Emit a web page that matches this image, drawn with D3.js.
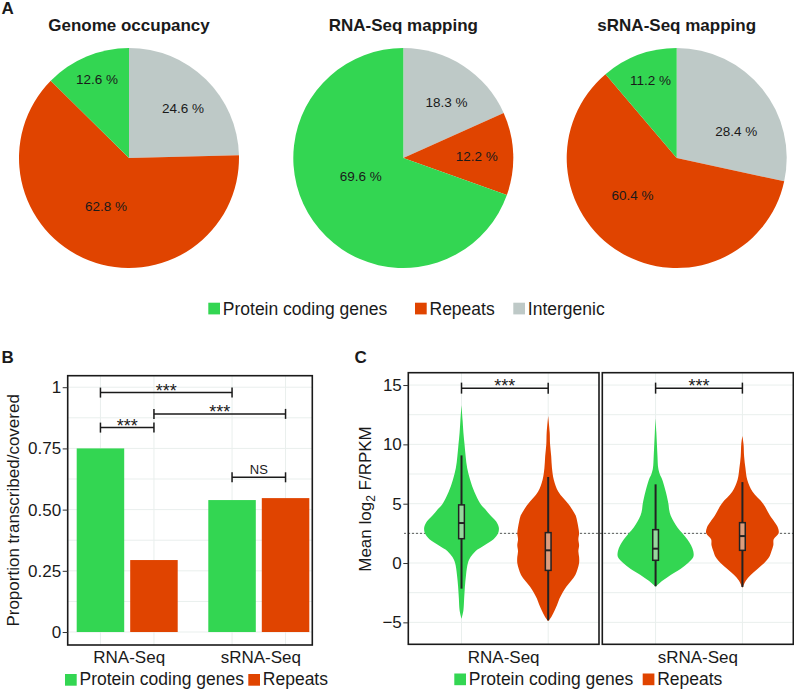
<!DOCTYPE html>
<html><head><meta charset="utf-8">
<script src="https://cdn.jsdelivr.net/npm/d3@7"></script>
<style>
body{margin:0;background:#fff;}
svg{display:block;font-family:"Liberation Sans",Arial,Helvetica,sans-serif;}
</style></head><body>
<svg id="chart" width="794" height="689"></svg>
<script>
// ================= DATA =================
const categories = ["Protein coding genes", "Repeats", "Intergenic"];
// Pie slices in drawing order (clockwise from 12 o'clock)
const pieOrder = ["Intergenic", "Repeats", "Protein coding genes"];
const pieTitles = ["Genome occupancy", "RNA-Seq mapping", "sRNA-Seq mapping"];
const genomeOccupancy = [24.6, 62.8, 12.6];
const rnaSeqMapping   = [18.3, 12.2, 69.6];
const srnaSeqMapping  = [28.4, 60.4, 11.2];

// Panel B
const seqTypes = ["RNA-Seq", "sRNA-Seq"];
const barSeries = ["Protein coding genes", "Repeats"];
const propProtein = [0.75, 0.539];
const propRepeats = [0.294, 0.547];
const propTicks = [0, 0.25, 0.5, 0.75, 1];
const propTickLabels = ["0", "0.25", "0.50", "0.75", "1"];
// significance brackets: from (group, series) to (group, series), at value, label
const propSig = [
  ["RNA-Seq", "Protein coding genes", "sRNA-Seq", "Protein coding genes", 0.978, "***"],
  ["RNA-Seq", "Repeats", "sRNA-Seq", "Repeats", 0.891, "***"],
  ["RNA-Seq", "Protein coding genes", "RNA-Seq", "Repeats", 0.835, "***"],
  ["sRNA-Seq", "Protein coding genes", "sRNA-Seq", "Repeats", 0.632, "NS"]
];

// Panel C : violin density profiles [log2 F/RPKM, relative density]
const densRnaProtein = [[13.3,0],[12,0.03],[11,0.05],[10,0.08],[9,0.11],[8,0.15],[7,0.23],[6,0.34],[5,0.5],[4.5,0.64],[4,0.77],[3.5,0.92],[3,0.99],[2.5,0.97],[2,0.85],[1.5,0.61],[1,0.37],[0.5,0.24],[0,0.17],[-1,0.12],[-2,0.09],[-3,0.07],[-4,0.05],[-4.7,0]];
const densRnaRepeats = [[12.4,0],[11,0.04],[10,0.05],[9,0.08],[8,0.1],[7,0.15],[6,0.27],[5,0.53],[4.5,0.64],[4,0.73],[3.5,0.77],[3,0.8],[2.5,0.82],[2,0.8],[1.5,0.82],[1,0.8],[0.5,0.82],[0,0.82],[-0.5,0.78],[-1,0.72],[-1.5,0.61],[-2,0.48],[-2.5,0.38],[-3,0.3],[-3.5,0.24],[-4,0.17],[-4.5,0.09],[-4.9,0]];
const densSrnaProtein = [[12.2,0],[11,0.02],[10,0.035],[9,0.05],[8,0.07],[7.5,0.11],[7,0.18],[6,0.27],[5,0.34],[4.5,0.36],[4,0.4],[3.5,0.48],[3,0.58],[2.5,0.71],[2,0.84],[1.5,0.94],[1,1.0],[0.5,1.0],[0,0.86],[-0.5,0.66],[-1,0.4],[-1.5,0.18],[-2,0]];
const densSrnaRepeats = [[10.7,0],[10,0.03],[9,0.045],[8,0.08],[7,0.13],[6,0.27],[5,0.55],[4,0.73],[3,0.94],[2.5,0.96],[2,0.83],[1.5,0.82],[1,0.77],[0.5,0.71],[0,0.58],[-0.5,0.4],[-1,0.22],[-1.5,0.09],[-2.1,0]];
// box stats: [lower whisker, q1, median, q3, upper whisker]
const boxRnaProtein  = [-2.16, 2.05, 3.37, 4.9, 9.07];
const boxRnaRepeats  = [-4.83, -0.62, 1.07, 2.56, 7.25];
const boxSrnaProtein = [-1.96, 0.23, 1.21, 2.81, 6.63];
const boxSrnaRepeats = [-2.02, 1.07, 2.27, 3.4, 6.82];
const rpkmTicks = [-5, 0, 5, 10, 15];
const rpkmTickLabels = ["\u22125", "0", "5", "10", "15"];
const rpkmRefLine = 2.5;
const rpkmSigY = 14.74;
const rpkmSigLabel = "***";

// ================= STYLE =================
const colors = {"Protein coding genes": "#33D652", "Repeats": "#E04400", "Intergenic": "#BEC9C7"};
const ink = "#1a1a1a";
const gridCol = "#e9efed";
const svg = d3.select("#chart");

function panelLetter(t, x, y) {
  svg.append("text").attr("x", x).attr("y", y).attr("font-size", 17).attr("font-weight", "bold").attr("fill", ink).text(t);
}
function legend(items, xs, sqY, baseY) {
  items.forEach((k, i) => {
    svg.append("rect").attr("x", xs[i]).attr("y", sqY).attr("width", 11.7).attr("height", 11.7).attr("fill", colors[k]);
    svg.append("text").attr("x", xs[i] + 14.5).attr("y", baseY).attr("font-size", 17.5).attr("fill", ink).text(k);
  });
}

// ================= PANEL A =================
panelLetter("A", 1.5, 14);
const R = 110;
const pieCenters = [[129, 158], [403.3, 158], [676.7, 158]];
// label placement tweaks: [angle offset (deg) from slice middle, radius fraction]
const pieLabelLayout = [
  [[2.9, 0.669], [4, 0.484], [0.6, 0.775]],
  [[5, 0.639], [0.9, 0.668], [12.5, 0.42]],
  [[14.3, 0.595], [18.5, 0.528], [1.6, 0.748]]
];
const pie = d3.pie().sort(null).value(d => d.v);
const arc = d3.arc().innerRadius(0).outerRadius(R);
[genomeOccupancy, rnaSeqMapping, srnaSeqMapping].forEach((vals, i) => {
  const g = svg.append("g").attr("transform", `translate(${pieCenters[i][0]},${pieCenters[i][1]})`);
  const arcs = pie(vals.map((v, j) => ({k: pieOrder[j], v})));
  g.selectAll("path").data(arcs).join("path").attr("d", arc).attr("fill", d => colors[d.data.k]);
  arcs.forEach((a, j) => {
    const [dAng, rf] = pieLabelLayout[i][j];
    const ang = (a.startAngle + a.endAngle) / 2 + dAng * Math.PI / 180;
    const r = rf * R;
    g.append("text").attr("x", r * Math.sin(ang)).attr("y", -r * Math.cos(ang)).attr("dy", "0.35em")
      .attr("text-anchor", "middle").attr("font-size", 13.5).attr("fill", ink).text(a.data.v.toFixed(1) + " %");
  });
  svg.append("text").attr("x", pieCenters[i][0]).attr("y", 30.5).attr("text-anchor", "middle")
    .attr("font-size", 17).attr("font-weight", "bold").attr("fill", ink).text(pieTitles[i]);
});
legend(["Protein coding genes", "Repeats", "Intergenic"], [208.3, 415, 513.3], 302.7, 314.8);

// ================= PANEL B =================
panelLetter("B", 1.5, 363.3);
const bL = 67.7, bR = 312.3, bT = 375.7, bB = 645;
const yB = d3.scaleLinear().domain([-0.053, 1.047]).range([bB, bT]);
const xG = d3.scaleBand().domain(seqTypes).range([76.7, 309.3]).paddingInner(0.2325);
const xS = d3.scaleBand().domain(barSeries).range([0, xG.bandwidth()]).paddingInner(0.112);
const barCenter = (grp, ser) => xG(grp) + xS(ser) + xS.bandwidth() / 2;
const gB = svg.append("g");
// grid
d3.range(0, 1.0001, 0.125).forEach(v => {
  gB.append("line").attr("x1", bL).attr("x2", bR).attr("y1", yB(v)).attr("y2", yB(v)).attr("stroke", gridCol).attr("stroke-width", 1);
});
seqTypes.forEach(grp => barSeries.forEach(ser => {
  const x = barCenter(grp, ser);
  gB.append("line").attr("x1", x).attr("x2", x).attr("y1", bT).attr("y2", bB).attr("stroke", gridCol).attr("stroke-width", 1);
}));
// bars
const barData = [];
seqTypes.forEach((grp, i) => {
  barData.push({grp, ser: "Protein coding genes", v: propProtein[i]});
  barData.push({grp, ser: "Repeats", v: propRepeats[i]});
});
gB.selectAll("rect.bar").data(barData).join("rect").attr("class", "bar")
  .attr("x", d => xG(d.grp) + xS(d.ser)).attr("width", xS.bandwidth())
  .attr("y", d => yB(d.v)).attr("height", d => yB(0) - yB(d.v)).attr("fill", d => colors[d.ser]);
// significance
propSig.forEach(s => {
  const x1 = barCenter(s[0], s[1]), x2 = barCenter(s[2], s[3]), y = yB(s[4]);
  gB.append("line").attr("x1", x1).attr("x2", x2).attr("y1", y).attr("y2", y).attr("stroke", ink).attr("stroke-width", 1.5);
  [x1, x2].forEach(x => gB.append("line").attr("x1", x).attr("x2", x).attr("y1", y - 5).attr("y2", y + 5).attr("stroke", ink).attr("stroke-width", 1.5));
  if (s[5] === "NS") {
    gB.append("text").attr("x", (x1 + x2) / 2).attr("y", y - 3).attr("text-anchor", "middle").attr("font-size", 13).attr("fill", ink).text(s[5]);
  } else {
    gB.append("text").attr("x", (x1 + x2) / 2).attr("y", y + 4).attr("text-anchor", "middle").attr("font-size", 18).attr("fill", ink).text(s[5]);
  }
});
// border
gB.append("rect").attr("x", bL).attr("y", bT).attr("width", bR - bL).attr("height", bB - bT).attr("fill", "none").attr("stroke", ink).attr("stroke-width", 1.6);
// axis
const axB = svg.append("g").attr("transform", `translate(${bL},0)`)
  .call(d3.axisLeft(yB).tickValues(propTicks).tickFormat((d, i) => propTickLabels[i]).tickSize(5).tickPadding(1.5));
axB.select(".domain").remove();
axB.selectAll("line").attr("stroke", "#333");
axB.selectAll("text").attr("font-size", 17).attr("fill", ink).attr("font-family", "Liberation Sans, Arial, sans-serif");
seqTypes.forEach(grp => {
  svg.append("text").attr("x", xG(grp) + xG.bandwidth() / 2 + 2).attr("y", 662.5).attr("text-anchor", "middle").attr("font-size", 17).attr("fill", ink).text(grp);
});
svg.append("text").attr("transform", `translate(19.3,${(bT + bB) / 2}) rotate(-90)`).attr("text-anchor", "middle")
  .attr("font-size", 17).attr("fill", ink).text("Proportion transcribed/covered");
legend(["Protein coding genes", "Repeats"], [65, 248.3], 674, 685.3);

// ================= PANEL C =================
panelLetter("C", 354.5, 363.3);
const cT = 372.7, cB = 644.3;
const facets = [[408.3, 599], [602.3, 793.3]];
const yC = d3.scaleLinear().domain([-6.85, 16.04]).range([cB, cT]);
const wScale = d3.scaleLinear().domain([0, 1]).range([0, 37.7]);
const violinSets = [
  [{ser: "Protein coding genes", dens: densRnaProtein, box: boxRnaProtein}, {ser: "Repeats", dens: densRnaRepeats, box: boxRnaRepeats}],
  [{ser: "Protein coding genes", dens: densSrnaProtein, box: boxSrnaProtein}, {ser: "Repeats", dens: densSrnaRepeats, box: boxSrnaRepeats}]
];
const gC = svg.append("g");
// grid
facets.forEach(([fl, fr], fi) => {
  d3.range(-5, 15.001, 2.5).forEach(v => {
    gC.append("line").attr("x1", fl).attr("x2", fr).attr("y1", yC(v)).attr("y2", yC(v)).attr("stroke", gridCol).attr("stroke-width", 1);
  });
});
const xPts = facets.map(([fl, fr]) => d3.scalePoint().domain(barSeries).range([fl + 1.2, fr + 1.2]).padding(0.6));
facets.forEach(([fl, fr], fi) => {
  barSeries.forEach(ser => {
    const x = xPts[fi](ser);
    gC.append("line").attr("x1", x).attr("x2", x).attr("y1", cT).attr("y2", cB).attr("stroke", gridCol).attr("stroke-width", 1);
  });
});
// reference line
gC.append("line").attr("x1", 404).attr("x2", 794).attr("y1", yC(rpkmRefLine)).attr("y2", yC(rpkmRefLine))
  .attr("stroke", "#333").attr("stroke-width", 0.8).attr("stroke-dasharray", "2,2");
// violins
facets.forEach((f, fi) => {
  violinSets[fi].forEach(vs => {
    const cx = xPts[fi](vs.ser);
    const area = d3.area().curve(d3.curveCatmullRom.alpha(0.5))
      .y(d => yC(d[0])).x0(d => cx - wScale(d[1])).x1(d => cx + wScale(d[1]));
    gC.append("path").datum(vs.dens).attr("d", area).attr("fill", colors[vs.ser]);
    const [lo, q1, med, q3, hi] = vs.box;
    gC.append("line").attr("x1", cx).attr("x2", cx).attr("y1", yC(q3)).attr("y2", yC(hi)).attr("stroke", "#222").attr("stroke-width", 2);
    gC.append("line").attr("x1", cx).attr("x2", cx).attr("y1", yC(lo)).attr("y2", yC(q1)).attr("stroke", "#222").attr("stroke-width", 2);
    gC.append("rect").attr("x", cx - 2.85).attr("width", 5.7).attr("y", yC(q3)).attr("height", yC(q1) - yC(q3))
      .attr("fill", "#d8d8d0").attr("fill-opacity", 0.6).attr("stroke", "#222").attr("stroke-width", 1.5);
    gC.append("line").attr("x1", cx - 2.85).attr("x2", cx + 2.85).attr("y1", yC(med)).attr("y2", yC(med)).attr("stroke", "#222").attr("stroke-width", 2);
  });
  // significance bracket
  const x1 = xPts[fi]("Protein coding genes"), x2 = xPts[fi]("Repeats"), y = yC(rpkmSigY);
  gC.append("line").attr("x1", x1).attr("x2", x2).attr("y1", y).attr("y2", y).attr("stroke", ink).attr("stroke-width", 1.5);
  [x1, x2].forEach(x => gC.append("line").attr("x1", x).attr("x2", x).attr("y1", y - 5.5).attr("y2", y + 5.5).attr("stroke", ink).attr("stroke-width", 1.5));
  gC.append("text").attr("x", (x1 + x2) / 2).attr("y", y + 3.5).attr("text-anchor", "middle").attr("font-size", 18).attr("fill", ink).text(rpkmSigLabel);
  // border
  gC.append("rect").attr("x", f[0]).attr("y", cT).attr("width", f[1] - f[0]).attr("height", cB - cT).attr("fill", "none").attr("stroke", ink).attr("stroke-width", 1.6);
  svg.append("text").attr("x", (f[0] + f[1]) / 2).attr("y", 663).attr("text-anchor", "middle").attr("font-size", 17).attr("fill", ink).text(seqTypes[fi]);
});
const axC = svg.append("g").attr("transform", `translate(${facets[0][0]},0)`)
  .call(d3.axisLeft(yC).tickValues(rpkmTicks).tickFormat((d, i) => rpkmTickLabels[i]).tickSize(5).tickPadding(1.5));
axC.select(".domain").remove();
axC.selectAll("line").attr("stroke", "#333");
axC.selectAll("text").attr("font-size", 17).attr("fill", ink).attr("font-family", "Liberation Sans, Arial, sans-serif");
const yl = svg.append("text").attr("transform", `translate(370.7,499) rotate(-90)`).attr("text-anchor", "middle")
  .attr("font-size", 17).attr("fill", ink);
yl.append("tspan").text("Mean log");
yl.append("tspan").attr("font-size", 12).attr("dy", 4).text("2");
yl.append("tspan").attr("dy", -4).text(" F/RPKM");
legend(["Protein coding genes", "Repeats"], [454.3, 642.7], 673.5, 685);
</script>
</body></html>
